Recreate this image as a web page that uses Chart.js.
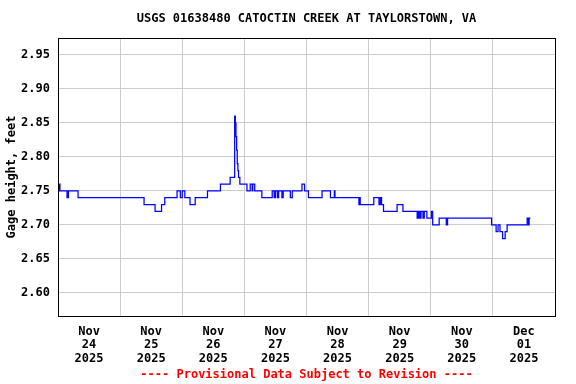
<!DOCTYPE html>
<html>
<head>
<meta charset="utf-8">
<script src="https://cdn.jsdelivr.net/npm/chart.js"></script>
<style>
  html, body { margin: 0; padding: 0; background: #fff; }
  canvas { display: block; }
</style>
</head>
<body>
<canvas id="gageChart" width="576" height="384"></canvas>
<script>
// Hours since 2025-11-24 00:00 and gage height (feet) starting at that hour
const readingHours = [
  0.25, 0.5, 0.75, 3.5, 4.0, 7.75, 33.25, 37.5, 40.0, 41.25,
  46.0, 47.25, 48.0, 49.0, 51.0, 53.0, 57.75, 62.75, 66.5, 68.25,
  68.5, 68.75, 69.0, 69.25, 69.5, 69.75, 70.25, 73.0, 74.25, 75.0,
  75.25, 76.0, 78.75, 82.75, 83.5, 84.0, 84.75, 85.25, 86.5, 87.0,
  89.75, 90.5, 94.25, 95.25, 96.75, 102.0, 105.25, 106.75, 107.0, 116.25,
  116.5, 116.75, 122.0, 124.0, 124.5, 125.0, 125.75, 131.0, 133.25, 138.75,
  139.25, 139.75, 140.25, 141.0, 141.5, 142.5, 144.25, 144.75, 147.25, 150.0,
  150.5, 167.5, 169.25, 170.0, 170.75, 171.75, 172.75, 173.5, 181.25, 181.75,
  182.0, 182.5
];
const gageHeight = [
  2.75, 2.76, 2.75, 2.74, 2.75, 2.74, 2.73, 2.72, 2.73, 2.74,
  2.75, 2.74, 2.75, 2.74, 2.73, 2.74, 2.75, 2.76, 2.77, 2.86,
  2.85, 2.83, 2.81, 2.79, 2.78, 2.77, 2.76, 2.75, 2.76, 2.75,
  2.76, 2.75, 2.74, 2.75, 2.74, 2.75, 2.74, 2.75, 2.74, 2.75,
  2.74, 2.75, 2.76, 2.75, 2.74, 2.75, 2.74, 2.75, 2.74, 2.73,
  2.74, 2.73, 2.74, 2.73, 2.74, 2.73, 2.72, 2.73, 2.72, 2.71,
  2.72, 2.71, 2.72, 2.71, 2.72, 2.71, 2.72, 2.70, 2.71, 2.70,
  2.71, 2.70, 2.69, 2.70, 2.69, 2.68, 2.69, 2.70, 2.71, 2.70,
  2.71, 2.71
];

const dayLabels = [
  ['Nov', '24', '2025'], ['Nov', '25', '2025'], ['Nov', '26', '2025'], ['Nov', '27', '2025'],
  ['Nov', '28', '2025'], ['Nov', '29', '2025'], ['Nov', '30', '2025'], ['Dec', '01', '2025']
];
const yTickValues = [2.60, 2.65, 2.70, 2.75, 2.80, 2.85, 2.90, 2.95];

const chartTitle = 'USGS 01638480 CATOCTIN CREEK AT TAYLORSTOWN, VA';
const footerText = '---- Provisional Data Subject to Revision ----';

const monoFont = "'DejaVu Sans Mono', 'Liberation Mono', monospace";

// title, footer and the box round the plot
const framePlugin = {
  id: 'frame',
  afterDraw(chart) {
    const ctx = chart.ctx;
    const area = chart.chartArea;
    ctx.save();
    ctx.strokeStyle = '#000';
    ctx.lineWidth = 1;
    ctx.strokeRect(Math.round(area.left) + 0.5, Math.round(area.top) + 0.5,
      Math.round(area.right - area.left), Math.round(area.bottom - area.top));
    const cx = (area.left + area.right) / 2;
    ctx.textAlign = 'center';
    ctx.textBaseline = 'middle';
    ctx.font = 'bold 12px ' + monoFont;
    ctx.fillStyle = '#000';
    ctx.fillText(chartTitle, cx, 19);
    ctx.fillStyle = '#ff0000';
    ctx.fillText(footerText, cx, 375);
    ctx.restore();
  }
};

const points = readingHours.map((h, i) => ({ x: h, y: gageHeight[i] }));

new Chart(document.getElementById('gageChart').getContext('2d'), {
  type: 'line',
  data: {
    datasets: [{
      data: points,
      borderColor: '#0000ff',
      borderWidth: 1.25,
      pointRadius: 0,
      stepped: true,
      fill: false
    }]
  },
  options: {
    responsive: false,
    animation: false,
    events: [],
    layout: { padding: { top: 38, right: 21, left: 0, bottom: 0 } },
    plugins: {
      legend: { display: false },
      tooltip: { enabled: false },
      title: { display: false }
    },
    scales: {
      x: {
        type: 'linear',
        min: 0,
        max: 192,
        afterFit(scale) { scale.height = 68; },
        afterBuildTicks(scale) {
          const t = [];
          for (let h = 12; h <= 180; h += 12) t.push({ value: h });
          scale.ticks = t;
        },
        grid: {
          drawTicks: false,
          color: (c) => (c.tick && c.tick.value % 24 === 0) ? '#cccccc' : 'rgba(0,0,0,0)'
        },
        border: { color: '#000', width: 1 },
        ticks: {
          autoSkip: false,
          maxRotation: 0,
          padding: 9,
          color: '#000',
          font: { family: monoFont, size: 12, weight: 'bold', lineHeight: 1.12 },
          callback: (v) => (v % 24 === 12) ? dayLabels[Math.floor(v / 24)] : ''
        }
      },
      y: {
        min: 2.566,
        max: 2.975,
        afterFit(scale) { scale.width = 58; },
        afterBuildTicks(scale) {
          scale.ticks = yTickValues.map(v => ({ value: v }));
        },
        grid: { drawTicks: false, color: '#cccccc' },
        border: { color: '#000', width: 1 },
        ticks: {
          padding: 8,
          color: '#000',
          font: { family: monoFont, size: 12, weight: 'bold' },
          callback: (v) => v.toFixed(2)
        },
        title: {
          display: true,
          text: 'Gage height, feet',
          color: '#000',
          padding: { top: 5, bottom: 0 },
          font: { family: monoFont, size: 12, weight: 'bold' }
        }
      }
    }
  },
  plugins: [framePlugin]
});
</script>
</body>
</html>
